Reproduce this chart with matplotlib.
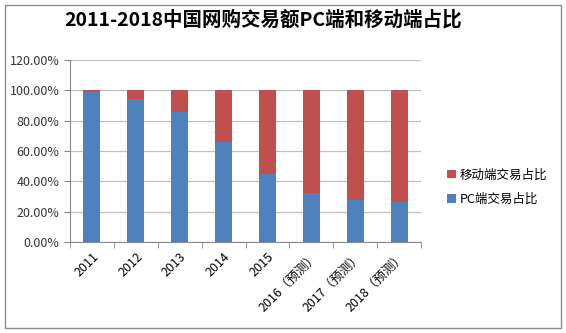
import numpy as np
import matplotlib.pyplot as plt
from matplotlib.patches import Rectangle
from matplotlib.ticker import PercentFormatter

plt.rcParams['font.family'] = ['Noto Sans CJK SC', 'DejaVu Sans']

years = ['2011', '2012', '2013', '2014', '2015',
         '2016（预测）', '2017（预测）', '2018（预测）']
pc_share = [98.9, 94.5, 85.9, 66.2, 45.0, 32.2, 27.8, 26.5]
mobile_share = [100 - v for v in pc_share]

fig = plt.figure(figsize=(5.66, 3.33), dpi=100)
fig.patches.append(Rectangle((5 / 566, 5 / 333), 556 / 566, 323 / 333,
                             transform=fig.transFigure, fill=False,
                             edgecolor='#8c8c8c', linewidth=1.0))

ax = fig.add_axes([70 / 566, 1 - 242 / 333, 351 / 566, 182 / 333])
x = np.arange(len(years))
ax.bar(x, pc_share, width=0.39, color='#4F81BD', label='PC端交易占比', zorder=3)
ax.bar(x, mobile_share, width=0.39, bottom=pc_share, color='#C0504D',
       label='移动端交易占比', zorder=3)

ax.set_xlim(-0.5, len(years) - 0.5)
ax.set_ylim(0, 120)
ax.set_yticks(np.arange(0, 121, 20))
ax.yaxis.set_major_formatter(PercentFormatter(decimals=2))
ax.grid(axis='y', color='#bfbfbf', linewidth=0.9, zorder=0)
for s in ['top', 'right']:
    ax.spines[s].set_visible(False)
ax.spines['left'].set_color('#888888')
ax.spines['bottom'].set_color('#888888')

ax.set_xticks(x)
ax.set_xticklabels(years, rotation=45, ha='right', rotation_mode='anchor', fontsize=9)
ax.tick_params(axis='x', length=0, pad=6)
ax.set_xticks(np.arange(-0.5, len(years)), minor=True)
ax.tick_params(axis='x', which='minor', length=4, color='#888888')
ax.tick_params(axis='y', length=4, color='#888888', labelsize=9, labelcolor='#333333')

handles, labels = ax.get_legend_handles_labels()
fig.legend(handles[::-1], labels[::-1], loc='center left',
           bbox_to_anchor=(436 / 566, 1 - 187 / 333), frameon=False,
           fontsize=9, handlelength=0.7, handleheight=0.7, handletextpad=0.3,
           labelspacing=0.9)

fig.text(263 / 566, 1 - 20 / 333, '2011-2018中国网购交易额PC端和移动端占比',
         ha='center', va='center', fontsize=14, fontweight='bold')

fig.savefig('out.png', dpi=100)
